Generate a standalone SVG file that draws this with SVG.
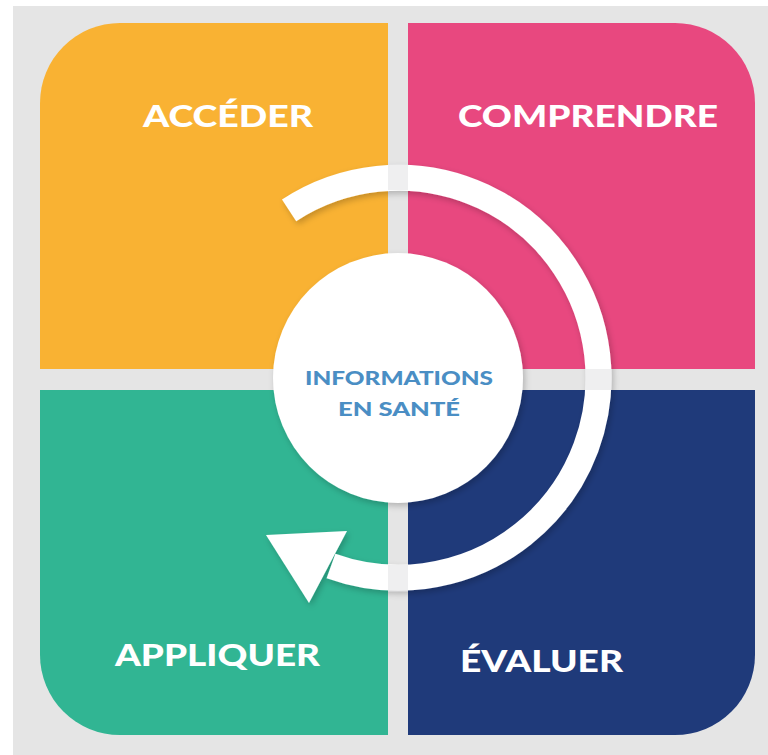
<svg xmlns="http://www.w3.org/2000/svg" width="768" height="755" viewBox="0 0 768 755">
  <defs>
    <filter id="sh" x="-20%" y="-20%" width="140%" height="140%">
      <feDropShadow dx="2" dy="3" stdDeviation="3" flood-color="#000" flood-opacity="0.22"/>
    </filter>
    <style>
      .lbl { font-family: Lato, "Open Sans", "Liberation Sans", sans-serif; font-weight: 900; font-size: 31px; fill: #ffffff; }
      .ctr { font-family: Lato, "Open Sans", "Liberation Sans", sans-serif; font-weight: 900; font-size: 19px; fill: #4A8EC4; }
      .gapov { fill: #E2E2E4; opacity: 0.55; }
    </style>
  </defs>
  <rect x="0" y="0" width="768" height="755" fill="#ffffff"/>
  <rect x="13" y="6" width="755" height="749" fill="#E5E5E5"/>

  <g id="acceder">
    <path d="M40,369 V103 A80,80 0 0 1 120,23 H388 V369 Z" fill="#F9B233"/>
    <text class="lbl" x="143" y="127" textLength="170" lengthAdjust="spacingAndGlyphs">ACCÉDER</text>
  </g>
  <g id="comprendre">
    <path d="M408,23 H675 A80,80 0 0 1 755,103 V369 H408 Z" fill="#E8487F"/>
    <text class="lbl" x="458" y="127" textLength="260" lengthAdjust="spacingAndGlyphs">COMPRENDRE</text>
  </g>
  <g id="evaluer">
    <path d="M408,390 H755 V655 A80,80 0 0 1 675,735 H408 Z" fill="#1F3A7A"/>
    <text class="lbl" x="460" y="672" textLength="163" lengthAdjust="spacingAndGlyphs">ÉVALUER</text>
  </g>
  <g id="appliquer">
    <path d="M40,390 H388 V735 H120 A80,80 0 0 1 40,655 Z" fill="#31B593"/>
    <text class="lbl" x="115" y="666" textLength="205" lengthAdjust="spacingAndGlyphs">APPLIQUER</text>
  </g>

  <g id="connectors">
    <g filter="url(#sh)">
      <path d="M289.1,210.3 A200,200 0 1 1 331,566" fill="none" stroke="#ffffff" stroke-width="26"/>
      <polygon points="266,535 347,531 309,603" fill="#ffffff"/>
    </g>
    <rect class="gapov" x="388" y="163" width="20" height="27"/>
    <rect class="gapov" x="585" y="369" width="27" height="21"/>
    <rect class="gapov" x="388" y="565" width="20" height="27"/>
  </g>

  <g id="center">
    <circle cx="398" cy="378" r="125" fill="#ffffff" filter="url(#sh)"/>
    <text class="ctr" x="305" y="385" textLength="188" lengthAdjust="spacingAndGlyphs">INFORMATIONS</text>
    <text class="ctr" x="338" y="416" textLength="122" lengthAdjust="spacingAndGlyphs">EN SANTÉ</text>
  </g>
</svg>
